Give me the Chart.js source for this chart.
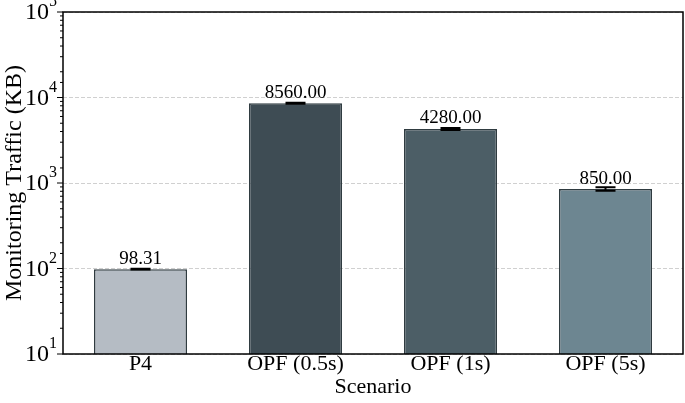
<!DOCTYPE html>
<html>
<head>
<meta charset="utf-8">
<script src="https://cdn.jsdelivr.net/npm/chart.js@4"></script>
<style>
  html, body { margin: 0; padding: 0; background: #fff; }
  #wrap { width: 685px; height: 403px; }
</style>
</head>
<body>
<div id="wrap"><canvas id="chart"></canvas></div>
<script>
const scenarios = ["P4", "OPF (0.5s)", "OPF (1s)", "OPF (5s)"];
const traffic = [98.31, 8560.00, 4280.00, 850.00];
const trafficErr = [1, 120, 120, 40];
const barColors = ["#b5bcc4", "#3e4c54", "#4c5e66", "#6d8691"];
const yExponents = [1, 2, 3, 4, 5];

const FONT = "'Liberation Serif', 'DejaVu Serif', serif";

function isMajor(v) {
    const l = Math.log10(v);
    return Math.abs(l - Math.round(l)) < 1e-9;
}

// frame, tick marks, tick labels with superscripts, error bars and value labels
const extras = {
    id: "extras",
    afterDatasetsDraw(chart) {
        const ctx = chart.ctx;
        const area = chart.chartArea;
        const y = chart.scales.y;
        const meta = chart.getDatasetMeta(0);

        // error bars
        ctx.save();
        ctx.strokeStyle = "#000";
        ctx.lineWidth = 2;
        meta.data.forEach((bar, i) => {
            const hi = y.getPixelForValue(traffic[i] + trafficErr[i]);
            const lo = y.getPixelForValue(traffic[i] - trafficErr[i]);
            ctx.beginPath();
            ctx.moveTo(bar.x, hi); ctx.lineTo(bar.x, lo);
            ctx.moveTo(bar.x - 10, hi); ctx.lineTo(bar.x + 10, hi);
            ctx.moveTo(bar.x - 10, lo); ctx.lineTo(bar.x + 10, lo);
            ctx.stroke();
        });

        // value labels
        ctx.fillStyle = "#000";
        ctx.font = "19px " + FONT;
        ctx.textAlign = "center";
        ctx.textBaseline = "bottom";
        meta.data.forEach((bar, i) => {
            ctx.fillText(traffic[i].toFixed(2), bar.x, bar.y - 1);
        });

        // frame
        ctx.strokeStyle = "#000";
        ctx.lineWidth = 1.5;
        ctx.strokeRect(area.left, area.top, area.right - area.left, area.bottom - area.top);

        // y tick marks
        ctx.lineWidth = 1;
        y.ticks.forEach(t => {
            const py = y.getPixelForValue(t.value);
            const len = isMajor(t.value) ? 6 : 3;
            ctx.beginPath();
            ctx.moveTo(area.left - len, py);
            ctx.lineTo(area.left, py);
            ctx.stroke();
        });

        // y tick labels 10^n
        ctx.textBaseline = "middle";
        yExponents.forEach(e => {
            const py = y.getPixelForValue(Math.pow(10, e));
            ctx.font = "16px " + FONT;
            ctx.textAlign = "right";
            const right = area.left - 6;
            const ew = ctx.measureText(String(e)).width;
            ctx.fillText(String(e), right, py - 10);
            ctx.font = "24px " + FONT;
            ctx.fillText("10", right - ew, py + 1);
        });
        ctx.restore();
    }
};

new Chart(document.getElementById("chart"), {
    type: "bar",
    data: {
        labels: scenarios,
        datasets: [{
            data: traffic,
            backgroundColor: barColors,
            borderColor: "#2f3b40",
            borderWidth: 1.5,
            barPercentage: 0.6,
            categoryPercentage: 1.0
        }]
    },
    options: {
        responsive: true,
        maintainAspectRatio: false,
        animation: false,
        layout: { padding: { top: 12, right: 2, left: 0, bottom: 0 } },
        plugins: {
            legend: { display: false },
            tooltip: { enabled: false }
        },
        scales: {
            x: {
                grid: { display: false, drawTicks: false },
                border: { display: false },
                ticks: {
                    color: "#000",
                    font: { family: FONT, size: 22 },
                    padding: -3,
                    maxRotation: 0
                },
                title: {
                    display: true,
                    text: "Scenario",
                    color: "#000",
                    font: { family: FONT, size: 22 },
                    padding: { top: 0, bottom: 3 }
                },
                afterFit(scale) { scale.height = 49; }
            },
            y: {
                type: "logarithmic",
                min: 10,
                max: 100000,
                border: { display: false },
                grid: {
                    drawTicks: false,
                    color: ctx => (ctx.tick && isMajor(ctx.tick.value)) ? "#c4c4c4" : "rgba(0,0,0,0)",
                    lineWidth: 0.8
                },
                ticks: {
                    autoSkip: false,
                    callback: () => ""
                },
                title: {
                    display: true,
                    text: "Monitoring Traffic (KB)",
                    color: "#000",
                    font: { family: FONT, size: 24 },
                    padding: 0
                },
                afterFit(scale) { scale.width = 63; }
            }
        }
    },
    plugins: [{
        id: "dashGrid",
        beforeDraw(chart) {
            chart.scales.y.options.grid.borderDash = [4, 2];
            chart.scales.y.options.border.dash = [4, 2];
        }
    }, extras]
});
</script>
</body>
</html>
